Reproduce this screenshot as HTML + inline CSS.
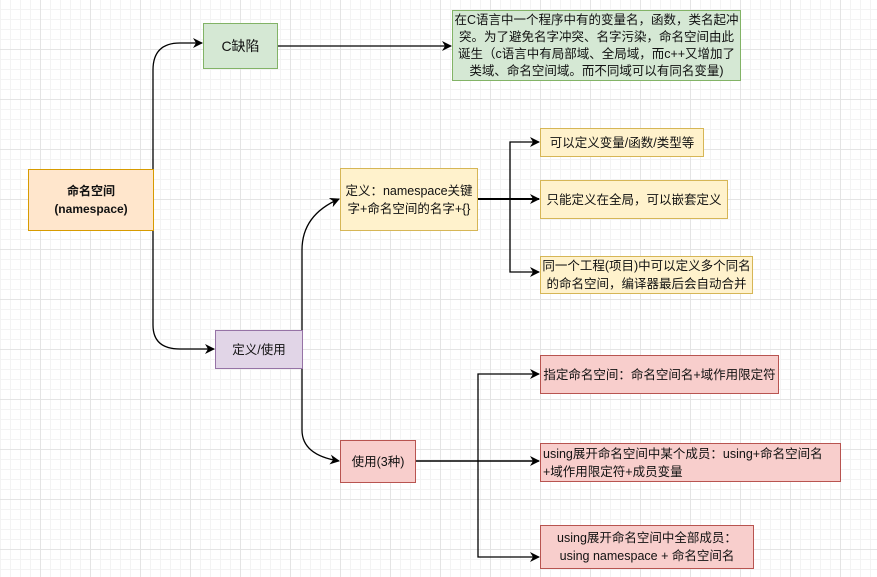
<!DOCTYPE html>
<html><head><meta charset="utf-8"><style>
body{margin:0;width:877px;height:577px;overflow:hidden;background:#fff;font-family:"Liberation Sans","Noto Sans CJK SC",sans-serif;}
.bg{position:absolute;left:0;top:0;width:877px;height:577px;
background-image:linear-gradient(#e4e4e4 1px,transparent 1px),linear-gradient(90deg,#e4e4e4 1px,transparent 1px),linear-gradient(#f3f3f3 1px,transparent 1px),linear-gradient(90deg,#f3f3f3 1px,transparent 1px);
background-size:50px 50px,50px 50px,10px 10px,10px 10px;background-position:-10px -1px,-10px -1px,-10px -1px,-10px -1px;}
.b{position:absolute;box-sizing:border-box;display:flex;align-items:center;justify-content:center;text-align:center;font-size:12.5px;line-height:18px;color:#111;}
.y{background:#fff2cc;border:1.5px solid #d6b656}
.r{background:#f8cecc;border:1.5px solid #b85450}
svg{position:absolute;left:0;top:0}
</style></head><body>
<div class="bg"></div>
<svg width="877" height="577">
<defs><marker id="a" markerWidth="10" markerHeight="10" refX="9" refY="5" orient="auto" markerUnits="userSpaceOnUse"><path d="M0,0 L10,5 L0,10 L3,5z" fill="#000"/></marker></defs>
<g fill="none" stroke="#000" stroke-width="1.3">
<path d="M153,199 V70 Q153,43 180,43 H202" marker-end="url(#a)"/>
<path d="M153,199 V325 Q153,349 180,349 H214" marker-end="url(#a)"/>
<path d="M278,46 H451" marker-end="url(#a)"/>
<path d="M302,349 V250 Q302,215 339,199" marker-end="url(#a)"/>
<path d="M302,349 V430 Q302,455 339,461" marker-end="url(#a)"/>
<path d="M478,199 H539" marker-end="url(#a)" stroke-width="2"/>
<path d="M510,199 V142 H539" marker-end="url(#a)"/>
<path d="M510,199 V272 H539" marker-end="url(#a)"/>
<path d="M415,461 H539" marker-end="url(#a)" stroke-width="1.6"/>
<path d="M478,461 V374 H539" marker-end="url(#a)"/>
<path d="M478,461 V557 H539" marker-end="url(#a)"/>
</g></svg>
<div class="b" style="left:28px;top:169px;width:126px;height:62px;background:#ffe6cc;border:1.5px solid #d79b00;font-weight:bold;font-size:12px;">命名空间<br>(namespace)</div>
<div class="b" style="left:203px;top:23px;width:75px;height:46px;background:#d5e8d4;border:1.5px solid #82b366;font-size:14px;">C缺陷</div>
<div class="b" style="left:452px;top:10px;width:289px;height:71px;background:#d5e8d4;border:1.5px solid #82b366;font-size:12.5px;line-height:17px;">在C语言中一个程序中有的变量名，函数，类名起冲突。为了避免名字冲突、名字污染，命名空间由此诞生（c语言中有局部域、全局域，而c++又增加了类域、命名空间域。而不同域可以有同名变量)</div>
<div class="b y" style="left:340px;top:168px;width:138px;height:63px;">定义：namespace关键字+命名空间的名字+{}</div>
<div class="b y" style="left:540px;top:128px;width:164px;height:29px;">可以定义变量/函数/类型等</div>
<div class="b y" style="left:540px;top:180px;width:188px;height:39px;">只能定义在全局，可以嵌套定义</div>
<div class="b y" style="left:540px;top:256px;width:213px;height:38px;">同一个工程(项目)中可以定义多个同名的命名空间，编译器最后会自动合并</div>
<div class="b" style="left:215px;top:330px;width:88px;height:39px;background:#e1d5e7;border:1.5px solid #9673a6;">定义/使用</div>
<div class="b r" style="left:340px;top:440px;width:76px;height:43px;">使用(3种)</div>
<div class="b r" style="left:540px;top:355px;width:239px;height:39px;">指定命名空间：命名空间名+域作用限定符</div>
<div class="b r" style="left:540px;top:443px;width:301px;height:39px;justify-content:flex-start;text-align:left;padding-left:2px;">using展开命名空间中某个成员：using+命名空间名+域作用限定符+成员变量</div>
<div class="b r" style="left:540px;top:525px;width:214px;height:44px;">using展开命名空间中全部成员：<br>using namespace + 命名空间名</div>
</body></html>
